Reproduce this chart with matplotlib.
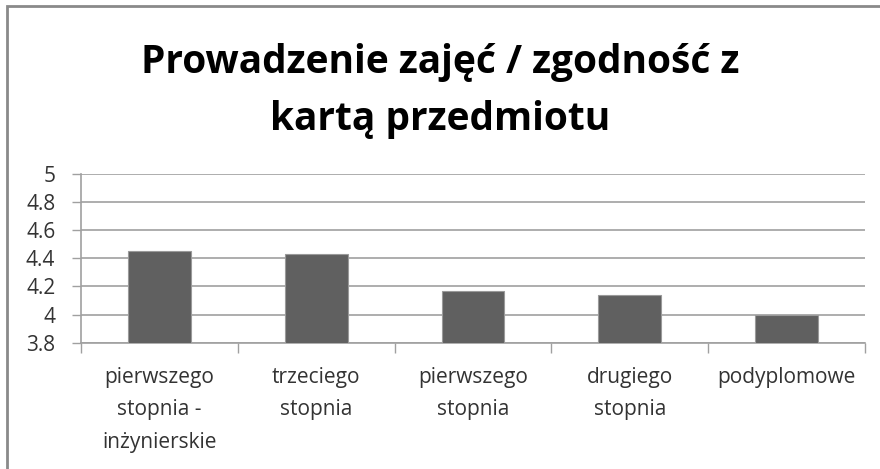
import matplotlib
matplotlib.use('Agg')
from matplotlib import pyplot as plt
from matplotlib.patches import Rectangle

categories = ['pierwszego\nstopnia -\ninżynierskie', 'trzeciego\nstopnia',
              'pierwszego\nstopnia', 'drugiego\nstopnia', 'podyplomowe']
values = [4.45, 4.43, 4.17, 4.14, 4.0]
yticks = [3.8, 4, 4.2, 4.4, 4.6, 4.8, 5]
title = 'Prowadzenie zajęć / zgodność z\nkartą przedmiotu'

plt.rcParams['font.family'] = ['Open Sans', 'DejaVu Sans']

fig = plt.figure(figsize=(8.8, 4.69), dpi=100)
W, H = 880, 469
ax = fig.add_axes([81 / W, 1 - 342.7 / H, (865 - 81) / W, (342.7 - 173.7) / H])

x = list(range(len(values)))
ax.bar(x, values, width=0.4, color='#606060', edgecolor='#9a9a9a', linewidth=0.8, zorder=3)

ax.set_xlim(-0.5, len(values) - 0.5)
ax.set_ylim(3.8, 5)
ax.set_yticks(yticks)
ax.set_yticklabels([('%g' % v) for v in yticks], fontsize=15, color='#333333')
ax.yaxis.grid(True, color='#a0a0a0', linewidth=1.2, zorder=0)
ax.tick_params(axis='y', length=6.5, color='#a0a0a0', width=1, pad=12)

# category boundary ticks
ax.set_xticks([i - 0.5 for i in range(len(values) + 1)])
ax.set_xticklabels([])
ax.tick_params(axis='x', length=7, color='#a0a0a0', width=1)
for i, c in enumerate(categories):
    ax.text(i, -0.145, c, transform=ax.get_xaxis_transform(), ha='center', va='top',
            fontsize=15, color='#333333', linespacing=1.7)

for s in ['top', 'right']:
    ax.spines[s].set_visible(False)
ax.spines['left'].set_color('#a0a0a0')
ax.spines['bottom'].set_color('#a0a0a0')
ax.spines['left'].set_linewidth(1.2)
ax.spines['bottom'].set_linewidth(1.2)

fig.text(0.5, 1 - 91 / H, title, ha='center', va='center', fontsize=28,
         fontweight='bold', color='black', linespacing=1.62)

fig.patches.append(Rectangle((7 / W, -0.1), 1.2, 1 - 6 / H + 0.1,
                             transform=fig.transFigure, fill=False,
                             edgecolor='#8a8a8a', linewidth=2))

plt.savefig('out.png', dpi=100)
